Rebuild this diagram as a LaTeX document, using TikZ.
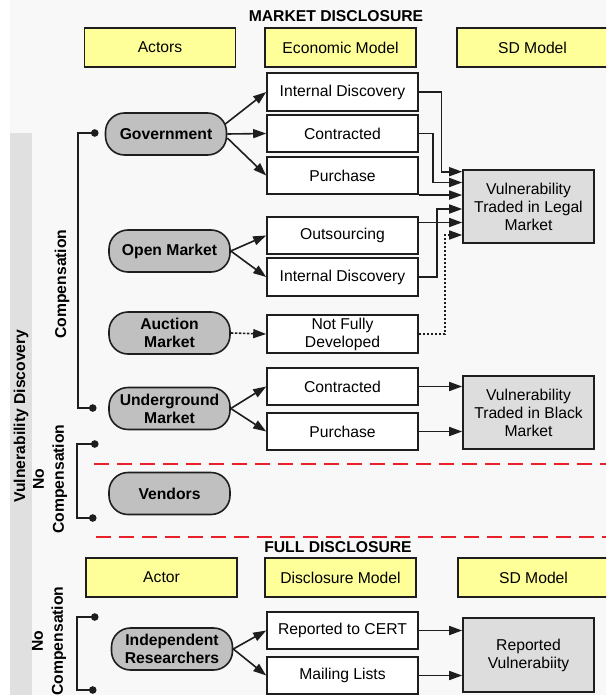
\documentclass[tikz,border=0pt]{standalone}
\usepackage{fontspec}
\setmainfont{Liberation Sans}
\usetikzlibrary{arrows.meta,calc}

\definecolor{hdrfill}{HTML}{FFFF99}
\definecolor{pillfill}{HTML}{C0C0C0}
\definecolor{sdfill}{HTML}{DDDDDD}
\definecolor{barfill}{HTML}{E0E0E0}
\definecolor{bgfill}{HTML}{F8F8F8}
\definecolor{edge}{HTML}{1E1E1E}
\definecolor{sepred}{HTML}{E8202A}

\tikzset{
  base/.style={font=\fontsize{15.7}{18}\selectfont, inner sep=0pt, align=center, text=black},
  header/.style={base, draw=edge, line width=1.6pt, fill=hdrfill, minimum width=151pt, minimum height=38.5pt},
  modelbox/.style={base, draw=edge, line width=1.6pt, fill=white, minimum width=151pt, minimum height=37.5pt},
  sdbox/.style={base, draw=edge, line width=1.6pt, fill=sdfill, minimum width=131pt, minimum height=73pt},
  pill/.style={base, font=\bfseries\fontsize{15.7}{18}\selectfont, draw=edge, line width=1.6pt,
    fill=pillfill, rounded corners=19pt, minimum width=121pt, minimum height=42pt},
  arr/.style={draw=edge, line width=1.6pt, -{Triangle[length=13pt,width=9pt]}},
  dotarr/.style={arr, dash pattern=on 2.5pt off 1.5pt},
  bracket/.style={draw=edge, line width=1.5pt, {Circle[length=7.5pt]}-{Circle[length=7.5pt]}},
  sep/.style={draw=sepred, line width=1.8pt, dash pattern=on 15pt off 8pt},
  title/.style={base, font=\bfseries\fontsize{15.7}{18}\selectfont},
  sidelabel/.style={base, font=\bfseries\fontsize{15.7}{20}\selectfont, rotate=90},
}

\begin{document}
\begin{tikzpicture}[x=1pt,y=-1pt]
  \useasboundingbox (0,0) rectangle (606,695);
  \clip (0,0) rectangle (606,695);

  % page background and the side band
  \fill[bgfill] (10,0) rectangle (606,695);
  \fill[barfill] (10,133) rectangle (32,695);

  % ---------- market disclosure ----------
  \node[title] (mdisc) at (336,16.5) {MARKET DISCLOSURE};
  \node[header] (hact) at (160,47.5) {Actors};
  \node[header] (heco) at (340.5,47.5) {Economic Model};
  \node[header] (hsd)  at (532.5,47.5) {SD Model};

  % actors
  \node[pill] (gov) at (166,134)   {Government};
  \node[pill] (om)  at (169.5,251) {Open Market};
  \node[pill] (am)  at (169.5,333) {Auction\\Market};
  \node[pill] (ug)  at (169.5,408.5) {Underground\\Market};
  \node[pill] (ven) at (169.5,493.5) {Vendors};

  % economic models
  \node[modelbox] (id1)  at (342.5,92)    {Internal Discovery};
  \node[modelbox] (con1) at (342.5,133.5) {Contracted};
  \node[modelbox] (pur1) at (342.5,175.5) {Purchase};
  \node[modelbox] (out)  at (342.5,235.5) {Outsourcing};
  \node[modelbox] (id2)  at (342.5,277)   {Internal Discovery};
  \node[modelbox] (nfd)  at (342.5,334)   {Not Fully\\Developed};
  \node[modelbox] (con2) at (342.5,386.5) {Contracted};
  \node[modelbox] (pur2) at (342.5,431.5) {Purchase};

  % SD models
  \node[sdbox] (legal) at (528.5,206.5) {Vulnerability\\Traded in Legal\\Market};
  \node[sdbox] (black) at (528.5,412.5) {Vulnerability\\Traded in Black\\Market};

  % actor -> model arrows
  \draw[arr] ($(gov.east)+(-2,-10)$) -- (id1.west);
  \draw[arr] (gov.east) -- (con1.west);
  \draw[arr] ($(gov.east)+(0,4)$) -- (pur1.west);
  \draw[arr] (om.east) -- (out.west);
  \draw[arr] (om.east) -- (id2.west);
  \draw[dotarr] (am.east) -- (nfd.west);
  \draw[arr] (ug.east) -- (con2.west);
  \draw[arr] (ug.east) -- (pur2.west);

  % model -> legal market
  \draw[arr] (id1.east) -- ++(22.7,0) |- ($(legal.west)+(0,-34.8)$);
  \draw[arr] (con1.east) -- ++(14.3,0) |- ($(legal.west)+(0,-24)$);
  \draw[arr] (pur1.south east) -- (pur1.south east -| legal.west);
  \draw[arr] ($(out.east)+(0,-13)$) -- ($(legal.west)+(0,16)$);
  \draw[arr] (id2.east) -- ++(18,0) |- ($(legal.west)+(0,2.5)$);
  \draw[dotarr] (nfd.east) -- ++(26,0) |- ($(legal.west)+(0,28.5)$);

  % model -> black market
  \draw[arr] (con2.east) -- (con2.east -| black.west);
  \draw[arr] (pur2.east) -- (pur2.east -| black.west);

  % compensation brackets
  \coordinate (b1t) at (98.5,133);
  \coordinate (b1b) at (96.5,408);
  \draw[bracket] (b1t) -- ++(-20.5,0) |- (b1b);
  \coordinate (b2t) at (98.5,444);
  \coordinate (b2b) at (96.5,518);
  \draw[bracket] (b2t) -- ++(-21.5,0) |- (b2b);
  \coordinate (b3t) at (98.5,617);
  \coordinate (b3b) at (96.5,690);
  \draw[bracket] (b3t) -- ++(-21.5,0) |- (b3b);

  % side labels
  \node[sidelabel] (vd)    at (21,416)  {Vulnerability Discovery};
  \node[sidelabel] (comp)  at (62,284)  {Compensation};
  \node[sidelabel] (ncomp) at (50,479)  {No\\Compensation};
  \node[sidelabel] (ncfd)  at (49,641)  {No\\Compensation};

  % separators
  \coordinate (s1a) at (94,464);
  \coordinate (s1b) at (606,464);
  \coordinate (s2a) at (96,537);
  \coordinate (s2b) at (606,537);
  \draw[sep] (s1a) -- (s1b);
  \draw[sep] (s2a) -- (s2b);

  % ---------- full disclosure ----------
  \node[title] (fdisc) at (338,547) {FULL DISCLOSURE};
  \node[header] (hact2) at (161.5,577.5) {Actor};
  \node[header] (hdis)  at (340.5,577.5) {Disclosure Model};
  \node[header] (hsd2)  at (533.5,577.5) {SD Model};

  \node[pill] (ir) at (172,649) {Independent\\Researchers};
  \node[modelbox] (cert) at (342.5,630.5) {Reported to CERT};
  \node[modelbox] (mail) at (342.5,675.5) {Mailing Lists};
  \node[sdbox, minimum height=74pt] (rep) at (528.5,655) {Reported\\Vulnerabiity};

  \draw[arr] (ir.east) -- (cert.west);
  \draw[arr] (ir.east) -- (mail.west);
  \draw[arr] (cert.east) -- (cert.east -| rep.west);
  \draw[arr] (mail.east) -- (mail.east -| rep.west);
\end{tikzpicture}
\end{document}
